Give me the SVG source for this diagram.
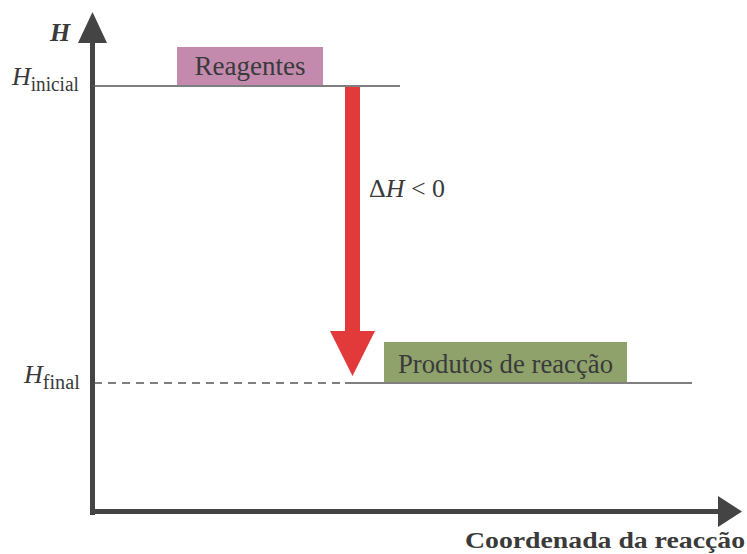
<svg xmlns="http://www.w3.org/2000/svg" width="747" height="554" viewBox="0 0 747 554">
<style>
.t{font-family:"Liberation Serif","DejaVu Serif",serif;fill:#3a3a3a}
.ax{fill:#444;stroke:none}
</style>
<rect width="747" height="554" fill="#fff"/>
<g id="axes">
<rect class="ax" x="90" y="40" width="5" height="475"/>
<polygon class="ax" points="92.5,12 78,43 107,43"/>
<rect class="ax" x="90" y="509" width="632" height="5"/>
<polygon class="ax" points="742,511.5 718,496 718,527"/>
<text class="t" x="50" y="41" font-size="26" font-weight="bold" font-style="italic">H</text>
<text class="t" x="465" y="548" font-size="24" font-weight="bold" textLength="280" lengthAdjust="spacingAndGlyphs">Coordenada da reacção</text>
<text class="t" x="12" y="85" font-size="26" font-style="italic">H<tspan font-style="normal" font-size="20" dy="6" textLength="48" lengthAdjust="spacingAndGlyphs">inicial</tspan></text>
<text class="t" x="24" y="383" font-size="26" font-style="italic">H<tspan font-style="normal" font-size="20" dy="6" textLength="37" lengthAdjust="spacingAndGlyphs">final</tspan></text>
</g>
<g id="levels">
<line x1="92" y1="86" x2="400" y2="86" stroke="#555" stroke-width="1.5"/>
<line x1="94" y1="383" x2="345" y2="383" stroke="#555" stroke-width="1.5" stroke-dasharray="8,6"/>
<line x1="345" y1="383" x2="692" y2="383" stroke="#555" stroke-width="1.5"/>
</g>
<g id="reagentes">
<rect x="177" y="47" width="146" height="38" fill="#c38aae"/>
<text class="t" x="250" y="75" font-size="27" text-anchor="middle">Reagentes</text>
</g>
<g id="produtos">
<rect x="384" y="342" width="243" height="40" fill="#8fa26c"/>
<text class="t" x="398" y="373" font-size="27" textLength="215" lengthAdjust="spacingAndGlyphs">Produtos de reacção</text>
</g>
<g id="connectors">
<rect x="345" y="87" width="15" height="244" fill="#e23a3a"/>
<polygon points="330,331 375,331 352.5,376" fill="#e23a3a"/>
<text class="t" x="369" y="197" font-size="25" textLength="76" lengthAdjust="spacingAndGlyphs"><tspan>Δ</tspan><tspan font-style="italic">H</tspan> &lt; 0</text>
</g>
</svg>
